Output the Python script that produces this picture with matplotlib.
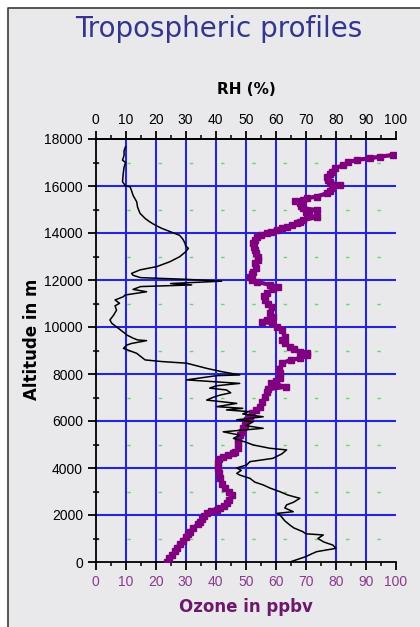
import matplotlib
matplotlib.use("Agg")
import matplotlib.pyplot as plt
from matplotlib.patches import Rectangle
from matplotlib.lines import Line2D

# ---------------- data ----------------
rh_alt = [0, 100, 230, 350, 440, 580, 720, 850, 1000, 1150, 1200, 1290, 1450, 1570,
          1750, 2000, 2070, 2140, 2300, 2430, 2550, 2710, 2850, 2990, 3150, 3280, 3400,
          3560, 3700, 3770, 3900, 4000, 4130, 4270, 4410, 4600, 4770, 4840, 4980, 5100,
          5260, 5400, 5540, 5690, 5800, 5970, 6050, 6180, 6300, 6400, 6470, 6540, 6610,
          6750, 6890, 7000, 7100, 7200, 7320, 7400, 7500, 7600, 7750, 7930, 7960, 8100,
          8240, 8460, 8530, 8600, 8750, 8880, 9090, 9230, 9300, 9420, 9450, 9520, 9660,
          9730, 9945, 10160, 10300, 10500, 10720, 10900, 11010, 11150, 11290, 11360,
          11500, 11600, 11720, 11790, 11850, 11950, 12030, 12100, 12200, 12280, 12430,
          12570, 12780, 12990, 13200, 13350, 13450, 13560, 13750, 13900, 14060, 14200,
          14340, 14480, 14620, 14840, 15100, 15330, 15600, 15800, 15970, 16000, 16180,
          16500, 16800, 17000, 17100, 17300, 17500, 17670]
rh_val = [64.7, 67, 70, 72, 73.6, 80, 79, 76, 74, 75.8, 70, 69, 66, 64.7,
          63, 61.4, 60.5, 65.8, 63, 63.6, 66, 68, 64, 61.4, 58, 55.8, 53,
          51.4, 48, 47, 48.5, 47, 50.3, 51.4, 59, 62, 63.6, 58, 52.5, 50,
          45.9, 48, 42.5, 55.8, 50, 52.5, 47, 55.8, 49, 51, 43.6, 49, 40.3,
          47, 37, 39, 41.4, 45, 43.6, 38, 40.3, 48, 30.3, 40.3, 48, 42,
          37, 30.3, 22, 16.5, 15, 13.7, 9.3, 10.4, 12, 17, 14, 12.6, 10.4,
          9.8, 7.6, 5.4, 4.8, 6, 7, 6.5, 8, 6.5, 9.3, 9.8,
          17, 12.5, 15, 32, 25, 42, 30, 15, 12.5, 12, 14.8,
          20.4, 24.8, 28, 30, 30.9, 30, 29.8, 29, 28, 24.8, 22,
          19.8, 18, 16.5, 14.8, 14, 13.7, 12.5, 12, 11.5, 10, 9,
          9.2, 9.5, 10, 9, 9.5, 9.5, 10]

o3_alt = [0, 150, 300, 450, 580, 750, 900, 1050, 1200, 1290, 1450, 1600, 1710, 1850,
          1950, 2070, 2150, 2210, 2300, 2400, 2500, 2650, 2850, 3000, 3140, 3300, 3560,
          3800, 3990, 4200, 4400, 4480, 4550, 4630, 4700, 4840, 5050, 5190, 5400, 5540,
          5700, 5830, 6040, 6180, 6330, 6470, 6610, 6800, 7030, 7250, 7350, 7460, 7550,
          7600, 7700, 7820, 8030, 8200, 8460, 8600, 8670, 8800, 8880, 8950, 9050, 9160,
          9300, 9450, 9590, 9870, 10000, 10160, 10230, 10300, 10440, 10600, 10860, 11000,
          11150, 11300, 11430, 11600, 11720, 11790, 11930, 12000, 12140, 12250, 12350,
          12500, 12710, 12850, 12990, 13150, 13280, 13420, 13560, 13700, 13840, 13920,
          13990, 14060, 14130, 14200, 14270, 14340, 14410, 14480, 14550, 14670, 14760,
          14840, 14900, 14980, 15050, 15150, 15260, 15380, 15420, 15480, 15550, 15690,
          15800, 15900, 16040, 16150, 16260, 16400, 16500, 16610, 16750, 16890, 17010,
          17110, 17180, 17250, 17320]
o3_val = [23.7, 24.5, 25.5, 26.3, 27, 28, 29, 30, 30.8, 31.4, 32.5, 34, 34.8, 35.5,
          36.2, 37, 38.5, 40.3, 41.5, 42.8, 43.6, 44.5, 45.3, 44.5, 43, 42.2, 41.4,
          41, 40.8, 40.7, 41, 42.5, 44, 45.9, 46.5, 47.5, 47.5, 47.5, 48, 48.6,
          49, 49.8, 50.3, 51.4, 52, 53.5, 54.7, 55.5, 56.4, 57, 57.5, 63.5, 60,
          58.5, 60, 61.4, 61.4, 61.2, 62, 65, 68, 70.5, 70.3, 68, 66, 64.7,
          63, 62, 63.1, 62, 60.5, 58.6, 55.3, 57, 59, 58, 58.6, 57.5,
          56.4, 56, 57, 59, 60.8, 58, 53.6, 52, 51.4, 52, 52.5,
          53.5, 53, 54, 54.2, 53.5, 53, 52.7, 52.5, 53, 53.6, 55,
          57, 58.5, 60.3, 62, 63.6, 65.5, 67, 68, 69.2, 73.6, 71,
          70.3, 70, 73.6, 69.2, 68.5, 68, 66.4, 69, 70.3, 73.6, 77,
          78, 78.6, 81.4, 78, 77.5, 77, 78, 78.6, 79.7, 82.5, 84.1,
          86.9, 91.3, 94.7, 99]

x_ticks = list(range(0, 101, 10))
y_ticks = list(range(0, 18001, 2000))

title = "Tropospheric profiles"
top_label = "RH (%)"
bottom_label = "Ozone in ppbv"
left_label = "Altitude in m"

# ---------------- figure ----------------
W, H = 420, 627
fig = plt.figure(figsize=(W / 100, H / 100), dpi=100, facecolor="white")
bg = "#e9e9ec"
fx0, fy1 = 7.5 / W, 1 - 8 / H
fig.patches.append(Rectangle((fx0, 0), 1 - fx0, fy1, transform=fig.transFigure,
                             facecolor=bg, edgecolor="none", zorder=-10))
fig.lines.append(Line2D([fx0, fx0, 1], [0, fy1, fy1], transform=fig.transFigure,
                        color="#3a3a3a", linewidth=1.2, zorder=-9))

ax = fig.add_axes([95.5 / W, 1 - 562 / H, (396 - 95.5) / W, (562 - 139) / H])
ax.set_facecolor(bg)
ax.set_xlim(0, 100)
ax.set_ylim(0, 18000)

blue = "#2626d8"
ax.vlines(x_ticks[1:-1], 0, 18000, colors=blue, linewidth=1.5, zorder=1)
ax.hlines(y_ticks[1:-1], 0, 100, colors=blue, linewidth=1.5, zorder=1)
ax.hlines(list(range(1000, 18000, 2000)), 0, 100, colors="#6fd36f", linewidth=1.0,
          linestyles=[(0.3, (2.5, 20.0))], zorder=1)

ax.plot(o3_val, o3_alt, color="#800080", linewidth=3.0, marker="s", markersize=5,
        markeredgecolor="#800080", zorder=3)

ax2 = ax.twiny()
ax2.set_xlim(0, 100)
ax2.plot(rh_val, rh_alt, color="black", linewidth=1.1, zorder=4)

for a in (ax, ax2):
    a.spines["right"].set_visible(False)
    for s in a.spines.values():
        s.set_linewidth(1.3)
ax2.spines["bottom"].set_visible(False)
ax2.spines["left"].set_visible(False)

ax.set_xticks(x_ticks)
ax.set_xticks(range(5, 100, 10), minor=True)
ax.set_yticks(y_ticks)
ax.set_yticks(range(1000, 18000, 2000), minor=True)
ax.tick_params(axis="x", which="major", direction="out", length=6, width=1.3,
               colors="black", labelcolor="#8a3a8a", labelsize=10, pad=3)
ax.tick_params(axis="x", which="minor", direction="out", length=3, width=1.1)
ax.tick_params(axis="y", which="major", direction="out", length=6, width=1.3,
               labelsize=10, pad=3)
ax.tick_params(axis="y", which="minor", direction="inout", length=5, width=1.1)
ax.tick_params(right=False, top=False)
ax.set_xticklabels([str(v) for v in x_ticks], fontfamily="Liberation Sans")
ax.set_yticklabels([str(v) for v in y_ticks], fontfamily="Liberation Sans")

ax2.set_xticks(x_ticks)
ax2.set_xticks(range(5, 100, 10), minor=True)
ax2.tick_params(axis="x", which="major", direction="out", length=6, width=1.3,
                labelsize=10, pad=3)
ax2.tick_params(axis="x", which="minor", direction="out", length=3, width=1.1)
ax2.set_xticklabels([str(v) for v in x_ticks], fontfamily="Liberation Sans")

fig.text(219 / W, 1 - 29 / H, title, ha="center", va="center",
         fontsize=20, color="#35358f", fontfamily="DejaVu Sans")
fig.text(246 / W, 1 - 89 / H, top_label, ha="center", va="center",
         fontsize=11, fontweight="bold", color="black", fontfamily="DejaVu Sans")
fig.text(246 / W, 1 - 607 / H, bottom_label, ha="center", va="center",
         fontsize=12, fontweight="bold", color="#6b1a6b", fontfamily="DejaVu Sans")
fig.text(32 / W, 1 - 339 / H, left_label, ha="center", va="center", rotation=90,
         fontsize=12, fontweight="bold", color="black", fontfamily="DejaVu Sans")

fig.savefig("out.png", dpi=100, facecolor="white")
